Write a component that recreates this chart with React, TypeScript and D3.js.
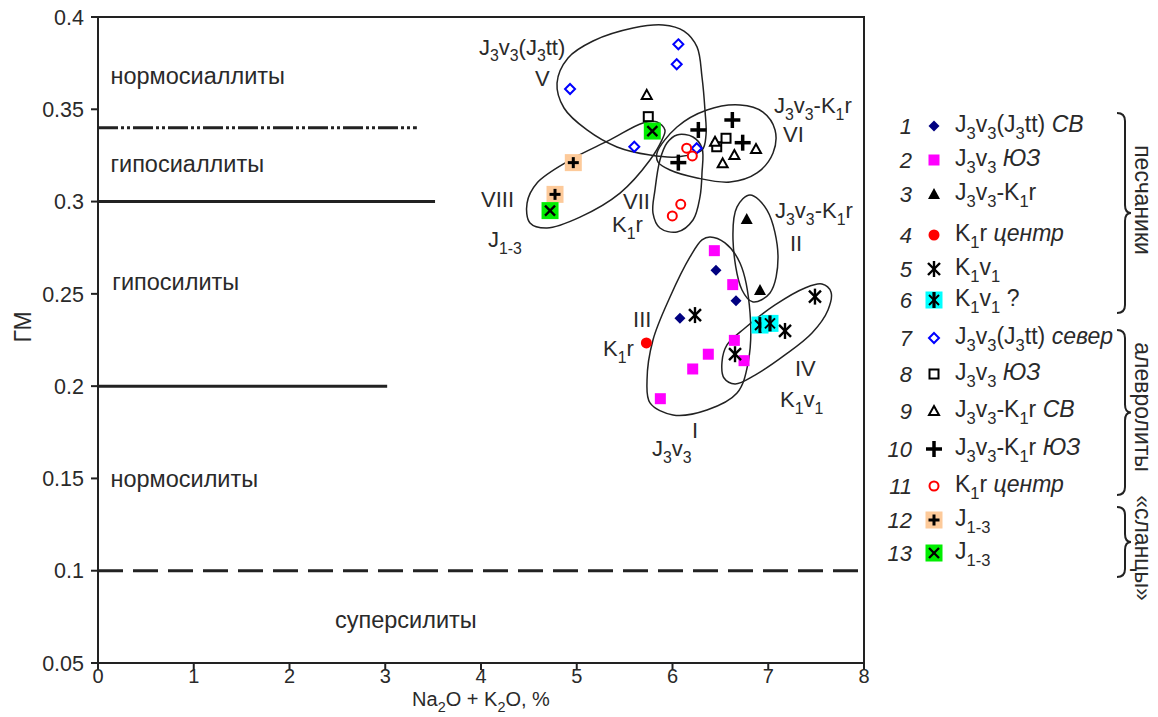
import React from "react";
import * as d3 from "d3";

// ---------- axis ticks ----------
const xTicks = [0, 1, 2, 3, 4, 5, 6, 7, 8];
const yTicks = [0.05, 0.1, 0.15, 0.2, 0.25, 0.3, 0.35, 0.4];

// ---------- classification boundaries ----------
const boundaryY = [0.34, 0.3, 0.2, 0.1];
const boundaryXEnd = [3.33, 3.52, 3.02, 8];
const regionNames = ["нормосиаллиты", "гипосиаллиты", "гипосилиты", "нормосилиты", "суперсилиты"];
const regionX = [0.13, 0.13, 0.15, 0.13, 2.475];
const regionY = [0.3637, 0.316, 0.2521, 0.1454, 0.069];

// ---------- data series (Na2O+K2O, ГМ) ----------
const s1: [number, number][] = [[6.454, 0.2628], [6.663, 0.2463], [6.078, 0.2368]];
const s2: [number, number][] = [[6.437, 0.2734], [6.629, 0.255], [6.646, 0.2248], [6.374, 0.2173], [6.211, 0.2093], [6.747, 0.2138], [5.873, 0.1932]];
const s3: [number, number][] = [[6.775, 0.2906], [6.914, 0.2521]];
const s4: [number, number][] = [[5.727, 0.2234]];
const s5: [number, number][] = [[6.235, 0.2385], [6.653, 0.2173], [7.488, 0.2485], [7.175, 0.2299]];
const s6: [number, number][] = [[6.914, 0.2331], [7.018, 0.234]];
const s7: [number, number][] = [[6.061, 0.3852], [6.044, 0.3744], [4.93, 0.361], [5.601, 0.3297], [6.253, 0.3289]];
const s8: [number, number][] = [[5.747, 0.346], [6.559, 0.3343], [6.462, 0.3297]];
const s9: [number, number][] = [[5.731, 0.3578], [6.444, 0.3324], [6.646, 0.3252], [6.524, 0.3207], [6.872, 0.3285]];
const s10: [number, number][] = [[6.27, 0.3388], [6.625, 0.3442], [6.733, 0.3319], [6.061, 0.3211]];
const s11: [number, number][] = [[6.148, 0.3289], [6.207, 0.3247], [6.086, 0.2985], [5.998, 0.2922]];
const s12: [number, number][] = [[4.964, 0.3211], [4.773, 0.3039]];
const s13: [number, number][] = [[5.789, 0.3382], [4.721, 0.2951]];

// ---------- group outlines ----------
const blobV: [number, number][] = [[4.794, 0.3642], [4.909, 0.3778], [5.17, 0.387], [5.588, 0.394], [5.901, 0.3957], [6.12, 0.3924], [6.256, 0.3838], [6.308, 0.3675], [6.339, 0.3496], [6.35, 0.3361], [6.308, 0.3279], [6.047, 0.3242], [5.765, 0.3252], [5.42, 0.3296], [5.107, 0.3388], [4.867, 0.3507]];
const blobVIII: [number, number][] = [[4.481, 0.2992], [4.585, 0.3101], [4.93, 0.3225], [5.347, 0.3334], [5.692, 0.3426], [5.838, 0.3431], [5.921, 0.3388], [5.89, 0.3334], [5.765, 0.3225], [5.452, 0.3046], [5.034, 0.2916], [4.689, 0.2857], [4.512, 0.2884]];
const blobVII: [number, number][] = [[6.047, 0.3361], [6.214, 0.335], [6.308, 0.329], [6.308, 0.3155], [6.287, 0.3025], [6.214, 0.29], [6.047, 0.2835], [5.869, 0.2857], [5.796, 0.2938], [5.817, 0.3063], [5.869, 0.3225], [5.942, 0.3317]];
const blobVI: [number, number][] = [[5.838, 0.3263], [6.047, 0.3404], [6.36, 0.3496], [6.705, 0.3523], [6.945, 0.3485], [7.071, 0.3388], [7.05, 0.3263], [6.883, 0.3155], [6.601, 0.3106], [6.256, 0.3128], [5.974, 0.3171], [5.849, 0.3214]];
const blobI: [number, number][] = [[6.392, 0.2808], [6.548, 0.2776], [6.705, 0.2667], [6.81, 0.2396], [6.789, 0.2125], [6.674, 0.1963], [6.36, 0.1871], [6.005, 0.1844], [5.765, 0.1909], [5.734, 0.2033], [5.796, 0.225], [5.974, 0.2483], [6.183, 0.27], [6.308, 0.2792]];
const blobII: [number, number][] = [[6.809, 0.3036], [6.987, 0.2954], [7.102, 0.27], [7.018, 0.2505], [6.841, 0.2456], [6.726, 0.2521], [6.632, 0.2792], [6.674, 0.2971]];
const blobIV: [number, number][] = [[6.569, 0.2223], [6.757, 0.2315], [7.071, 0.244], [7.384, 0.2532], [7.561, 0.2553], [7.655, 0.251], [7.624, 0.2413], [7.457, 0.2288], [7.175, 0.2169], [6.862, 0.206], [6.653, 0.2012], [6.538, 0.2044], [6.517, 0.2131]];

// ---------- group annotations ----------
const annText = ["J_3v_3(J_3tt)", "V", "J_3v_3-K_1r", "VI", "VIII", "J_{1-3}", "VII", "K_1r", "J_3v_3-K_1r", "II", "III", "K_1r", "IV", "K_1v_1", "I", "J_3v_3"];
const annX = [3.979, 4.564, 7.06, 7.154, 4.0, 4.073, 5.483, 5.368, 7.071, 7.227, 5.588, 5.274, 7.279, 7.123, 6.204, 5.786];
const annY = [0.3795, 0.3626, 0.348, 0.3323, 0.2971, 0.2754, 0.296, 0.2835, 0.2911, 0.2732, 0.232, 0.2163, 0.2055, 0.1887, 0.1719, 0.1622];

// ---------- legend ----------
const legendNums = ["1", "2", "3", "4", "5", "6", "7", "8", "9", "10", "11", "12", "13"];
const legendLabels = ["J_3v_3(J_3tt) |СВ", "J_3v_3 |ЮЗ", "J_3v_3-K_1r", "K_1r  |центр", "K_1v_1", "K_1v_1 ?", "J_3v_3(J_3tt) |север", "J_3v_3 |ЮЗ", "J_3v_3-K_1r |СВ", "J_3v_3-K_1r |ЮЗ", "K_1r |центр", "J_{1-3}", "J_{1-3}"];
const groupNames = ["песчаники", "алевролиты", "«сланцы»"];

const W = 1158, H = 717;
const TXT = "#2a2a2a";
const FONT = "'Liberation Sans', Arial, sans-serif";

function rich(text: string, fs: number) {
  type Tok = { t: string; sub: boolean; it: boolean };
  const toks: Tok[] = [];
  let buf = "";
  let it = false;
  let i = 0;
  const flush = () => { if (buf) { toks.push({ t: buf, sub: false, it }); buf = ""; } };
  while (i < text.length) {
    const c = text[i];
    if (c === "_") {
      flush();
      if (text[i + 1] === "{") {
        const j = text.indexOf("}", i);
        toks.push({ t: text.slice(i + 2, j), sub: true, it });
        i = j + 1;
      } else {
        toks.push({ t: text[i + 1], sub: true, it });
        i += 2;
      }
    } else if (c === "|") {
      flush();
      it = true;
      i++;
    } else {
      buf += c;
      i++;
    }
  }
  flush();
  let shifted = false;
  const sh = fs * 0.3;
  return toks.map((tk, k) => {
    let dy: number | undefined;
    if (tk.sub && !shifted) { dy = sh; shifted = true; }
    else if (!tk.sub && shifted) { dy = -sh; shifted = false; }
    return (
      <tspan key={k} dy={dy} fontSize={tk.sub ? fs * 0.72 : fs} fontStyle={tk.it ? "italic" : "normal"}>
        {tk.t}
      </tspan>
    );
  });
}

function Marker({ kind, x, y }: { kind: number; x: number; y: number }) {
  const k = "#000";
  switch (kind) {
    case 1:
      return <path d={`M${x},${y - 5.5}L${x + 5.5},${y}L${x},${y + 5.5}L${x - 5.5},${y}Z`} fill="#000080" />;
    case 2:
      return <rect x={x - 5.5} y={y - 5.5} width={11} height={11} fill="#ff00ff" />;
    case 3:
      return <path d={`M${x},${y - 6}L${x + 6},${y + 5}L${x - 6},${y + 5}Z`} fill={k} />;
    case 4:
      return <circle cx={x} cy={y} r={5.5} fill="#ff0000" />;
    case 5:
      return (
        <g stroke={k} strokeWidth={2.4}>
          <line x1={x} y1={y - 8} x2={x} y2={y + 8} />
          <line x1={x - 6} y1={y - 6} x2={x + 6} y2={y + 6} />
          <line x1={x + 6} y1={y - 6} x2={x - 6} y2={y + 6} />
        </g>
      );
    case 6:
      return (
        <g>
          <rect x={x - 8.5} y={y - 8.5} width={17} height={17} fill="#00ffff" />
          <g stroke={k} strokeWidth={2}>
            <line x1={x} y1={y - 8} x2={x} y2={y + 8} strokeWidth={3.2} />
            <line x1={x - 5} y1={y - 5} x2={x + 5} y2={y + 5} />
            <line x1={x + 5} y1={y - 5} x2={x - 5} y2={y + 5} />
          </g>
        </g>
      );
    case 7:
      return <path d={`M${x},${y - 5}L${x + 5},${y}L${x},${y + 5}L${x - 5},${y}Z`} fill="#fff" stroke="#0000ff" strokeWidth={2} />;
    case 8:
      return <rect x={x - 4.5} y={y - 4.5} width={9} height={9} fill="#fff" stroke={k} strokeWidth={2} />;
    case 9:
      return <path d={`M${x},${y - 5}L${x + 5},${y + 4}L${x - 5},${y + 4}Z`} fill="#fff" stroke={k} strokeWidth={2} />;
    case 10:
      return (
        <g stroke={k} strokeWidth={3.5}>
          <line x1={x - 8} y1={y} x2={x + 8} y2={y} />
          <line x1={x} y1={y - 8} x2={x} y2={y + 8} />
        </g>
      );
    case 11:
      return <circle cx={x} cy={y} r={4.5} fill="#fff" stroke="#ff0000" strokeWidth={2} />;
    case 12:
      return (
        <g>
          <rect x={x - 8.5} y={y - 8.5} width={17} height={17} fill="#fdca9a" />
          <g stroke={k} strokeWidth={3}>
            <line x1={x - 5.5} y1={y} x2={x + 5.5} y2={y} />
            <line x1={x} y1={y - 5.5} x2={x} y2={y + 5.5} />
          </g>
        </g>
      );
    case 13:
      return (
        <g>
          <rect x={x - 8.5} y={y - 8.5} width={17} height={17} fill="#00ee00" />
          <g stroke={k} strokeWidth={2.3}>
            <line x1={x - 5} y1={y - 5} x2={x + 5} y2={y + 5} />
            <line x1={x + 5} y1={y - 5} x2={x - 5} y2={y + 5} />
          </g>
        </g>
      );
    default:
      return null;
  }
}

export default function App() {
  const x = d3.scaleLinear().domain([0, 8]).range([98, 864]);
  const y = d3.scaleLinear().domain([0.05, 0.4]).range([663, 17]);

  const series = [s1, s2, s3, s4, s5, s6, s7, s8, s9, s10, s11, s12, s13];
  const blobs = [blobV, blobVIII, blobVII, blobVI, blobI, blobII, blobIV];
  const outline = d3
    .line<[number, number]>()
    .x((d) => x(d[0]))
    .y((d) => y(d[1]))
    .curve(d3.curveCatmullRomClosed.alpha(0.5));

  const dashes = ["20,3,3,3,3,3", undefined, undefined, "25,10"];
  const legendY = [126, 160, 194, 235, 269, 300, 338, 374, 411, 449, 486, 520, 553];
  const braces = [
    [113, 313],
    [330, 495],
    [507, 577],
  ];
  const bracePath = (y0: number, y1: number) => {
    const x0 = 1117, x1 = 1125, x2 = 1131;
    const ym = (y0 + y1) / 2;
    const r = 8;
    return `M${x0},${y0} Q${x1},${y0} ${x1},${y0 + r} L${x1},${ym - r} Q${x1},${ym} ${x2},${ym} Q${x1},${ym} ${x1},${ym + r} L${x1},${y1 - r} Q${x1},${y1} ${x0},${y1}`;
  };

  return (
    <svg width={W} height={H} style={{ position: "absolute", left: 0, top: 0, background: "#fff" }} fontFamily={FONT}>
      <rect x={0} y={0} width={W} height={H} fill="#fff" />
      {/* boundaries */}
      {boundaryY.map((b, i) => (
        <line key={"b" + i} x1={x(0)} x2={x(boundaryXEnd[i])} y1={y(b)} y2={y(b)} stroke="#222" strokeWidth={3} strokeDasharray={dashes[i]} />
      ))}
      {/* region names */}
      {regionNames.map((n, i) => (
        <text key={"r" + i} x={x(regionX[i])} y={y(regionY[i])} fontSize={23.5} fill={TXT}>
          {n}
        </text>
      ))}
      {/* frame */}
      <rect x={x(0)} y={y(0.4)} width={x(8) - x(0)} height={y(0.05) - y(0.4)} fill="none" stroke="#222" strokeWidth={2} />
      {/* y ticks */}
      {yTicks.map((t) => (
        <g key={"yt" + t}>
          <line x1={x(0) - 7} x2={x(0)} y1={y(t)} y2={y(t)} stroke="#222" strokeWidth={2} />
          <text x={x(0) - 14} y={y(t)} dy="0.36em" textAnchor="end" fontSize={21.5} fill={TXT}>
            {String(t)}
          </text>
        </g>
      ))}
      {xTicks.map((t) => (
        <g key={"xt" + t}>
          <line x1={x(t)} x2={x(t)} y1={y(0.05)} y2={y(0.05) + 7} stroke="#222" strokeWidth={2} />
          <text x={x(t)} y={y(0.05) + 20} textAnchor="middle" fontSize={20} fill={TXT}>
            {String(t)}
          </text>
        </g>
      ))}
      <text x={(x(0) + x(8)) / 2} y={706} textAnchor="middle" fill={TXT}>
        {rich("Na_2O + K_2O, %", 20)}
      </text>
      <text transform={`translate(31,327) rotate(-90)`} textAnchor="middle" fontSize={23} fill={TXT}>
        ГМ
      </text>
      {/* blobs */}
      {blobs.map((b, i) => (
        <path key={"bl" + i} d={outline(b) || ""} fill="none" stroke="#222" strokeWidth={1.5} />
      ))}
      {/* annotations */}
      {annText.map((t, i) => (
        <text key={"a" + i} x={x(annX[i])} y={y(annY[i])} fill={TXT}>
          {rich(t, 22)}
        </text>
      ))}
      {/* points */}
      {series.map((s, si) => (
        <g key={"s" + si}>
          {s.map((d, j) => (
            <Marker key={j} kind={si + 1} x={x(d[0])} y={y(d[1])} />
          ))}
        </g>
      ))}
      {/* legend */}
      {legendNums.map((n, i) => (
        <g key={"l" + i}>
          <text x={912} y={legendY[i]} dy="0.36em" textAnchor="end" fontSize={22} fontStyle="italic" fill={TXT}>
            {n}
          </text>
          <Marker kind={i + 1} x={934} y={legendY[i]} />
          <text x={955} y={legendY[i]} dy="0.36em" fill={TXT}>
            {rich(legendLabels[i], 23)}
          </text>
        </g>
      ))}
      {braces.map((b, i) => (
        <path key={"br" + i} d={bracePath(b[0], b[1])} fill="none" stroke="#222" strokeWidth={2} />
      ))}
      {groupNames.map((g, i) => (
        <text key={"g" + i} transform={`translate(1135,${[200, 407, 548][i]}) rotate(90)`} textAnchor="middle" fontSize={23} fill={TXT}>
          {g}
        </text>
      ))}
    </svg>
  );
}
